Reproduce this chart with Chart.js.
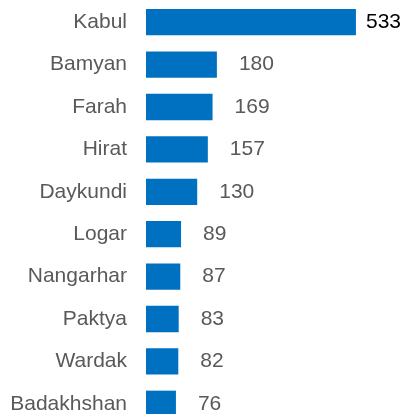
<!DOCTYPE html>
<html>
<head>
<meta charset="utf-8">
<script src="https://cdn.jsdelivr.net/npm/chart.js@4/dist/chart.umd.min.js"></script>
<style>
  html, body { margin: 0; padding: 0; background: #fff; overflow: hidden; }
  #wrap { width: 402px; height: 414px; overflow: hidden; }
  canvas { display: block; }
</style>
</head>
<body>
<div id="wrap"><canvas id="miGrafico" width="402" height="425"></canvas></div>
<script>
const provincias = ['Kabul', 'Bamyan', 'Farah', 'Hirat', 'Daykundi', 'Logar', 'Nangarhar', 'Paktya', 'Wardak', 'Badakhshan'];
const valores = [533, 180, 169, 157, 130, 89, 87, 83, 82, 76];

// etiquetas de valor al final de cada barra
const etiquetas = {
    id: 'etiquetas',
    afterDatasetsDraw(chart) {
        const ctx = chart.ctx;
        const meta = chart.getDatasetMeta(0);
        ctx.save();
        ctx.font = '21px "Liberation Sans", Arial, sans-serif';
        ctx.textBaseline = 'middle';
        ctx.textAlign = 'left';
        meta.data.forEach((bar, i) => {
            const txt = String(valores[i]);
            const w = ctx.measureText(txt).width;
            let x = bar.x + 22;
            if (x + w > chart.width - 1) x = chart.width - 1 - w;
            ctx.fillStyle = i === 0 ? '#000000' : '#595959';
            ctx.fillText(txt, x, bar.y);
        });
        ctx.restore();
    }
};

const grafico = new Chart(document.getElementById('miGrafico'), {
    type: 'bar',
    data: {
        labels: provincias,
        datasets: [{
            data: valores,
            backgroundColor: '#0070c0',
            borderWidth: 0,
            categoryPercentage: 1,
            barPercentage: 0.62
        }]
    },
    options: {
        indexAxis: 'y',
        responsive: false,
        animation: false,
        layout: { padding: { top: 1, right: 0, bottom: 0, left: 0 } },
        plugins: { legend: { display: false }, tooltip: { enabled: false } },
        scales: {
            x: { display: false, min: 0, max: 650 },
            y: {
                grid: { display: false, drawTicks: false },
                border: { display: false },
                ticks: {
                    padding: 19,
                    color: '#595959',
                    font: { family: '"Liberation Sans", Arial, sans-serif', size: 21 }
                },
                afterFit(scale) {
                    scale.width = 146;
                    scale.paddingTop = 0;
                    scale.paddingBottom = 0;
                }
            }
        }
    },
    plugins: [etiquetas]
});
</script>
</body>
</html>
